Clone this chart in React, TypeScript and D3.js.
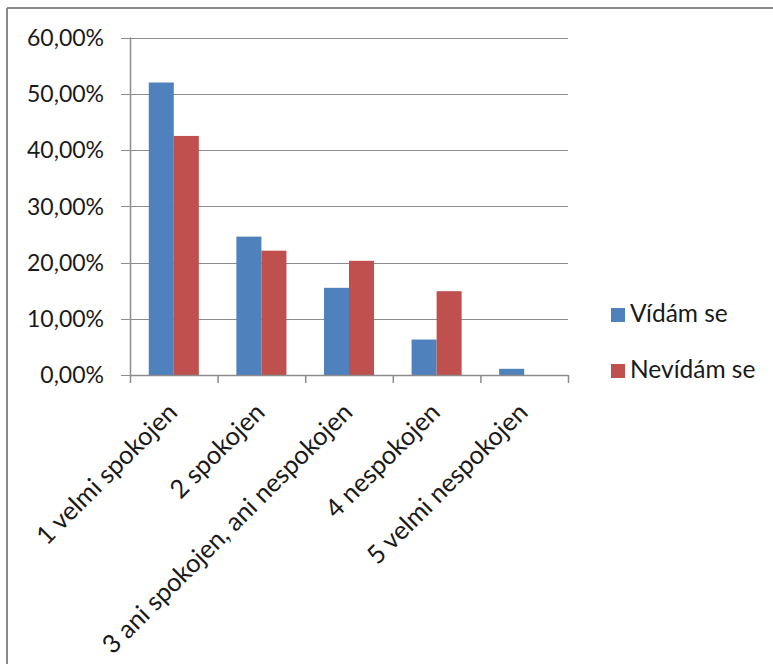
import React from "react";
import * as d3 from "d3";

const categories = [
  "1 velmi spokojen",
  "2 spokojen",
  "3 ani spokojen, ani nespokojen",
  "4 nespokojen",
  "5 velmi nespokojen",
];
const seriesNames = ["Vídám se", "Nevídám se"];
const vidamSe = [0.52, 0.246, 0.155, 0.063, 0.011];
const nevidamSe = [0.425, 0.221, 0.203, 0.149, 0];
const yTicks = [0, 0.1, 0.2, 0.3, 0.4, 0.5, 0.6];
const colors = ["#4F81BD", "#C0504D"];

const W = 773;
const H = 664;
const FONT = "Lato, 'Open Sans', sans-serif";

export default function App() {
  const plot = { left: 130, right: 568, top: 37.5, bottom: 375 };
  const x = d3
    .scaleBand<string>()
    .domain(categories)
    .range([plot.left, plot.right])
    .paddingInner(0)
    .paddingOuter(0);
  const y = d3.scaleLinear().domain([0, 0.6]).range([plot.bottom, plot.top]);
  const fmt = (v: number) => (v * 100).toFixed(2).replace(".", ",") + "%";
  const series = [vidamSe, nevidamSe];
  const groupW = x.bandwidth();
  // two bars per group with a 150% gap split on both sides
  const barW = groupW / 3.5;
  const offset = barW * 0.75;

  return (
    <svg width={W} height={H} style={{ display: "block", position: "absolute", left: 0, top: 0 }}>
      <rect x={0} y={0} width={W} height={H} fill="#ffffff" />
      {/* chart frame */}
      <line x1={7} y1={8} x2={W} y2={8} stroke="#8a8a8a" strokeWidth={2} />
      <line x1={7} y1={8} x2={7} y2={H} stroke="#8a8a8a" strokeWidth={2} />

      {/* gridlines and y ticks */}
      {yTicks.map((t) => (
        <g key={t}>
          <line
            x1={plot.left - 9}
            x2={plot.right}
            y1={Math.round(y(t)) + 0.5}
            y2={Math.round(y(t)) + 0.5}
            stroke="#8c8c8c"
            strokeWidth={1.2}
          />
          <text
            x={104}
            y={y(t)}
            dy="0.36em"
            textAnchor="end"
            fontFamily={FONT}
            fontSize={23}
            fill="#1a1a1a"
          >
            {fmt(t)}
          </text>
        </g>
      ))}

      {/* bars */}
      {categories.map((c, i) =>
        series.map((s, j) => {
          const v = s[i];
          if (v <= 0) return null;
          const bx = (x(c) as number) + offset + j * barW;
          return (
            <rect
              key={c + j}
              x={bx}
              y={y(v)}
              width={barW}
              height={y(0) - y(v)}
              fill={colors[j]}
            />
          );
        })
      )}

      {/* y axis */}
      <line x1={plot.left + 0.5} x2={plot.left + 0.5} y1={plot.top} y2={plot.bottom} stroke="#8c8c8c" strokeWidth={1.5} />
      {/* x axis */}
      <line x1={plot.left} x2={plot.right} y1={plot.bottom + 0.5} y2={plot.bottom + 0.5} stroke="#8c8c8c" strokeWidth={1.5} />
      {categories.concat([""]).map((_, i) => {
        const tx = plot.left + i * groupW;
        return (
          <line
            key={"xt" + i}
            x1={tx + 0.5}
            x2={tx + 0.5}
            y1={plot.bottom}
            y2={plot.bottom + 8}
            stroke="#8c8c8c"
            strokeWidth={1.5}
          />
        );
      })}

      {/* category labels */}
      {categories.map((c) => {
        const cx = (x(c) as number) + groupW / 2 + 5;
        const cy = 414;
        return (
          <text
            key={"lbl" + c}
            transform={`translate(${cx},${cy}) rotate(-45)`}
            textAnchor="end"
            fontFamily={FONT}
            fontSize={25.5}
            fill="#1a1a1a"
          >
            {c}
          </text>
        );
      })}

      {/* legend */}
      {seriesNames.map((n, j) => (
        <g key={n} transform={`translate(611, ${308 + j * 56})`}>
          <rect x={0} y={0} width={14} height={14} fill={colors[j]} />
          <text x={19} y={14} fontFamily={FONT} fontSize={24.5} fill="#1a1a1a">
            {n}
          </text>
        </g>
      ))}
    </svg>
  );
}
